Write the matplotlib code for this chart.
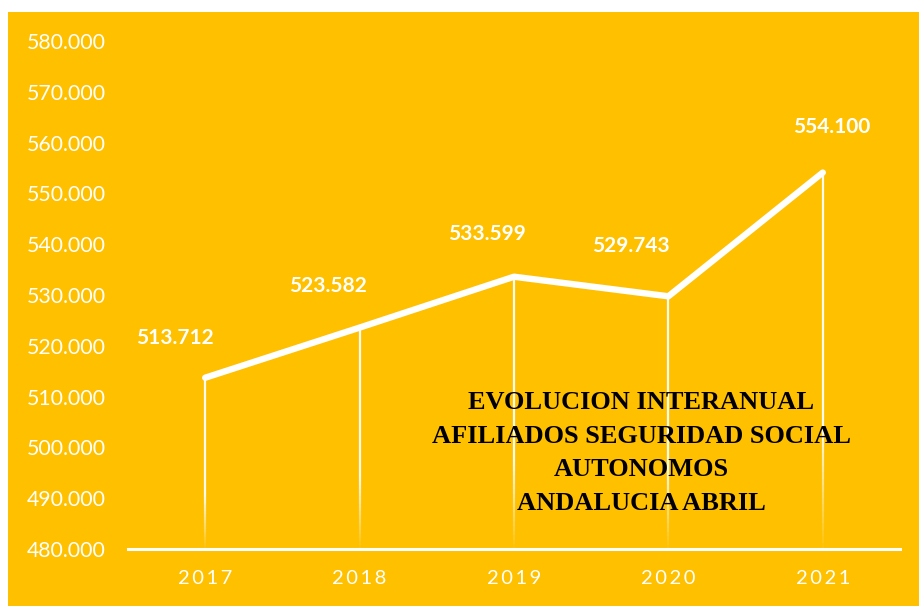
import numpy as np
import matplotlib
matplotlib.use('Agg')
import matplotlib.pyplot as plt
from matplotlib.collections import LineCollection
from matplotlib.patches import Rectangle

years = ['2017', '2018', '2019', '2020', '2021']
afiliados = [513712, 523582, 533599, 529743, 554100]
value_labels = ['513.712', '523.582', '533.599', '529.743', '554.100']
y_ticks = [480000, 490000, 500000, 510000, 520000, 530000, 540000, 550000, 560000, 570000, 580000]
title_lines = ['EVOLUCION INTERANUAL', 'AFILIADOS SEGURIDAD SOCIAL', 'AUTONOMOS', 'ANDALUCIA ABRIL']

YELLOW = '#FFC000'
SANS = ['Lato', 'DejaVu Sans']

fig = plt.figure(figsize=(9.2, 6.06), dpi=100, facecolor='white')
fig.patches.append(Rectangle((8 / 920, 0), 1, 594 / 606, transform=fig.transFigure,
                             facecolor=YELLOW, edgecolor='none', zorder=-10))

ax = fig.add_axes([128 / 920, 1 - 549 / 606, 772 / 920, 508 / 606])
ax.set_zorder(1)
ax.set_facecolor('none')
x = np.arange(len(years))

# drop lines fading towards the axis
for xi, yi in zip(x, afiliados):
    ys = np.linspace(yi, y_ticks[0], 60)
    segs = [[(xi, ys[k]), (xi, ys[k + 1])] for k in range(len(ys) - 1)]
    frac = (ys[:-1] - y_ticks[0]) / (yi - y_ticks[0])
    alphas = np.clip(frac * 3.0, 0, 1) * 0.95
    cols = [(1, 1, 1, a) for a in alphas]
    ax.add_collection(LineCollection(segs, colors=cols, linewidths=1.6, zorder=2))

ax.plot(x, afiliados, color='white', lw=4.6, solid_capstyle='round',
        solid_joinstyle='round', zorder=3)

offsets = [(-30, 40), (-32, 42), (-27, 43), (-38, 50), (9, 46)]
for xi, yi, lab, off in zip(x, afiliados, value_labels, offsets):
    ax.annotate(lab, (xi, yi), xytext=(off[0] * 0.72, off[1] * 0.72), textcoords='offset points',
                ha='center', va='center', color='white', fontsize=15,
                fontweight='bold', family=SANS)

ax.set_xlim(-0.5, len(years) - 0.5)
ax.set_ylim(y_ticks[0], y_ticks[-1])
ax.set_yticks(y_ticks)
ax.set_yticklabels([f'{v // 1000}.000' for v in y_ticks])
ax.set_xticks(x)
ax.set_xticklabels(['\u2009'.join(y) for y in years])

for spine in ['top', 'right', 'left']:
    ax.spines[spine].set_visible(False)
ax.spines['bottom'].set_color('white')
ax.spines['bottom'].set_linewidth(2.2)
ax.spines['bottom'].set_zorder(4)

ax.tick_params(axis='y', length=0, pad=16, labelcolor='white', labelsize=15.3)
ax.tick_params(axis='x', length=0, pad=15, labelcolor='white', labelsize=14.5)
for lab in ax.get_yticklabels() + ax.get_xticklabels():
    lab.set_family(SANS)

fig.text(641 / 920, 1 - 453 / 606, '\n'.join(title_lines), ha='center', va='center',
         fontsize=19, fontweight='bold', family='Liberation Serif', color='black',
         linespacing=1.58, zorder=5)

fig.savefig('out.png', dpi=100, facecolor='white')
